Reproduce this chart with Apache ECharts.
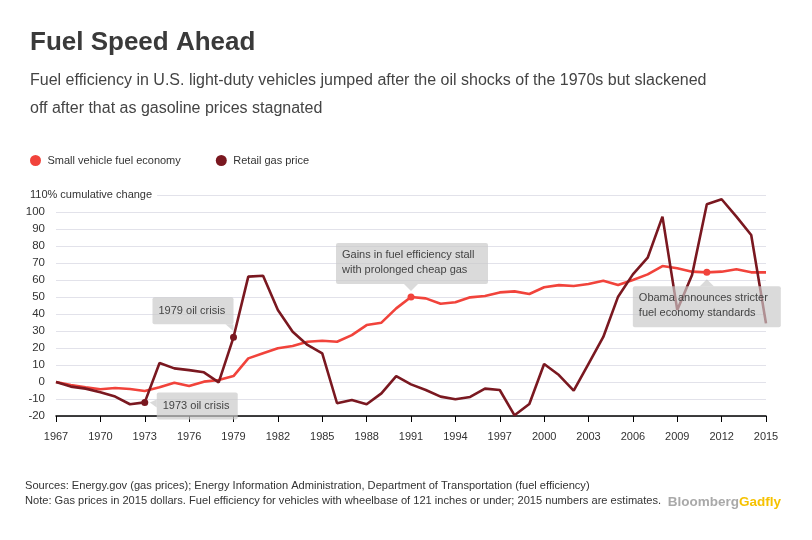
<!DOCTYPE html>
<html><head><meta charset="utf-8">
<script src="https://cdn.jsdelivr.net/npm/echarts@6/dist/echarts.min.js"></script>
<style>html,body{margin:0;padding:0;background:#fff}#c{width:812px;height:540px}</style>
</head><body><div id="c"></div>
<script>
const years = [];
for (let y = 1967; y <= 2015; y++) years.push(String(y));
const fuelEconomy = [0,-1.8,-3.1,-4.3,-3.5,-4.1,-5.3,-3.1,-0.4,-2.4,0.2,1.2,3.5,13.9,16.9,19.8,21.2,23.7,24.3,23.7,27.6,33.5,34.9,43.3,50,49.2,46,46.9,49.8,50.6,52.7,53.3,51.8,55.7,57,56.5,57.6,59.6,57,60,63.3,68.2,66.9,64.9,64.5,64.9,66.3,64.5,64.5];
const gasPrice = [0,-2.7,-3.9,-6,-8.6,-13.1,-12,11.2,8,7,5.7,-0.2,26.3,62,62.5,42.4,29.6,21.8,16.9,-12.5,-10.6,-13.1,-6.7,3.5,-1.4,-4.7,-8.6,-10.2,-8.8,-3.9,-4.7,-19.6,-12.9,10.6,4.1,-5.1,10.6,26.5,50.2,63.3,73.1,97.3,42.4,62.9,104.5,107.5,97.3,86.5,34.5];
const yTicks = {min: -20, max: 110, interval: 10};
const fuelMarked = ['1991', '2011'];
const gasMarked = ['1973', '1979'];

const FONT = '"Liberation Sans", Arial, sans-serif';
const RED = '#f1433b';
const DARK = '#7a1820';
const TXT = '#333333';

const chart = echarts.init(document.getElementById('c'), null, {renderer: 'canvas'});
function markSize(list) {
  return function (v, p) { return list.indexOf(years[p.dataIndex]) >= 0 ? 7 : 0; };
}
chart.setOption({
  animation: false,
  backgroundColor: '#fff',
  textStyle: {fontFamily: FONT},
  title: [
    {text: 'Fuel Speed Ahead', left: 30, top: 30, padding: 0, textStyle: {fontFamily: FONT, fontSize: 26, fontWeight: 'bold', color: '#3a3a3a'}},
    {text: 'Fuel efficiency in U.S. light-duty vehicles jumped after the oil shocks of the 1970s but slackened\noff after that as gasoline prices stagnated',
     left: 30, top: 67, padding: 0, textStyle: {fontFamily: FONT, fontSize: 16, fontWeight: 'normal', color: '#444', lineHeight: 28}},
    {text: 'Sources: Energy.gov (gas prices); Energy Information Administration, Department of Transportation (fuel efficiency)\nNote: Gas prices in 2015 dollars. Fuel efficiency for vehicles with wheelbase of 121 inches or under; 2015 numbers are estimates.',
     left: 25, top: 478, padding: 0, textStyle: {fontFamily: FONT, fontSize: 11.1, fontWeight: 'normal', color: TXT, lineHeight: 15}},
    {text: '{a|Bloomberg}{b|Gadfly}', right: 31, top: 495, padding: 0,
     textStyle: {rich: {a: {fontFamily: FONT, fontSize: 13.5, fontWeight: 'bold', color: '#a9a9a9'}, b: {fontFamily: FONT, fontSize: 13.5, fontWeight: 'bold', color: '#f6c200'}}}}
  ],
  legend: {
    left: 30, top: 155, padding: 0, icon: 'circle', itemWidth: 14, itemHeight: 11, itemGap: 35,
    textStyle: {fontFamily: FONT, fontSize: 11, color: TXT},
    data: ['Small vehicle fuel economy', 'Retail gas price']
  },
  grid: {left: 56, right: 46, top: 195, bottom: 124, containLabel: false},
  xAxis: {
    type: 'category', data: years, boundaryGap: false,
    axisLine: {onZero: false, lineStyle: {color: '#000', width: 1.5}},
    axisTick: {interval: 2, length: 6, lineStyle: {color: '#000', width: 1}},
    axisLabel: {interval: 2, margin: 15, fontFamily: FONT, fontSize: 11, color: TXT},
    splitLine: {show: false}
  },
  yAxis: {
    type: 'value', min: yTicks.min, max: yTicks.max, interval: yTicks.interval,
    axisLine: {show: false}, axisTick: {show: false},
    axisLabel: {margin: 11, fontFamily: FONT, fontSize: 11.5, color: TXT,
      formatter: function (v) { return v === 110 ? '' : String(v); }},
    splitLine: {lineStyle: {color: '#e2e2ea', width: 1}}
  },
  series: [
    {name: 'Small vehicle fuel economy', type: 'line', data: fuelEconomy, color: RED,
     lineStyle: {width: 2.6, color: RED}, symbol: 'circle', showAllSymbol: true, symbolSize: markSize(fuelMarked),
     itemStyle: {color: RED}, z: 3},
    {name: 'Retail gas price', type: 'line', data: gasPrice, color: DARK,
     lineStyle: {width: 2.6, color: DARK}, symbol: 'circle', showAllSymbol: true, symbolSize: markSize(gasMarked),
     itemStyle: {color: DARK}, z: 4}
  ]
});

function px(series, year) {
  const arr = series === 0 ? fuelEconomy : gasPrice;
  return chart.convertToPixel({gridIndex: 0}, [year, arr[years.indexOf(year)]]);
}
const BOX = 'rgba(200,200,200,0.68)';
const ANN = {fontFamily: FONT, fontSize: 11, fill: '#444'};
const g = [];
const topY = chart.convertToPixel({yAxisIndex: 0}, 110);
g.push({type: 'text', x: 30, y: topY, z: 10, style: Object.assign({}, ANN, {text: '110% cumulative change', fontSize: 11, fill: TXT, verticalAlign: 'middle', backgroundColor: '#fff', padding: [0, 5, 0, 0]})});

function note(p, bx, by, w, h, tri, lines) {
  g.push({type: 'rect', z: 20, shape: {x: p[0] + bx, y: p[1] + by, width: w, height: h, r: 2}, style: {fill: BOX}});
  g.push({type: 'polygon', z: 20, shape: {points: tri.map(function (t) { return [p[0] + t[0], p[1] + t[1]]; })}, style: {fill: BOX}});
  lines.forEach(function (s, i) {
    g.push({type: 'text', z: 21, x: p[0] + bx + 6, y: p[1] + by + (lines.length === 1 ? h / 2 : 12 + i * 15), style: Object.assign({}, ANN, {text: s, verticalAlign: 'middle'})});
  });
}
note(px(1, '1979'), -81, -40, 81, 27, [[-8, -13], [0, -13], [0, -6]], ['1979 oil crisis']);
note(px(1, '1973'), 12, -10, 81, 27, [[12, -3], [12, 5], [5, 0]], ['1973 oil crisis']);
note(px(0, '1991'), -75, -54, 152, 41, [[-7, -13], [7, -13], [0, -6]], ['Gains in fuel efficiency stall', 'with prolonged cheap gas']);
note(px(0, '2011'), -74, 14, 148, 41, [[-7, 14], [7, 14], [0, 7]], ['Obama announces stricter', 'fuel economy standards']);
chart.setOption({graphic: g});
</script></body></html>
